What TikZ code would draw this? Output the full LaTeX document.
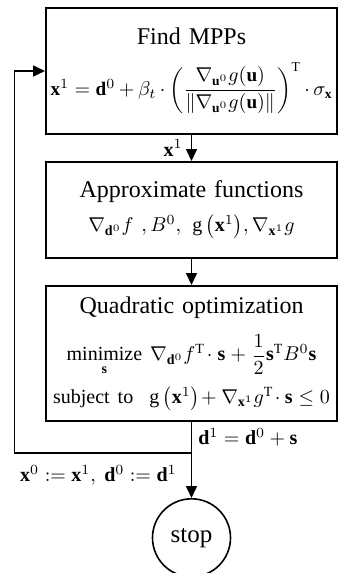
\documentclass[tikz,border=0pt]{standalone}
\usepackage{amsmath,amssymb}
\usepackage{fontspec}
\setmainfont{Liberation Serif}
\usetikzlibrary{positioning,arrows.meta}

\newcommand{\frm}{\fontsize{10}{12}\selectfont}

\tikzset{
  block/.style={draw, line width=1pt, minimum width=145.5pt, text width=141pt,
    align=center, inner sep=2pt, font=\fontsize{12}{14}\selectfont},
  stopnode/.style={draw, circle, line width=0.8pt, minimum size=39pt,
    inner sep=0pt, font=\fontsize{12.5}{14}\selectfont},
  flow/.style={line width=0.8pt, -{Triangle[length=6pt,width=5.5pt]}},
  lab/.style={font=\fontsize{10}{12}\selectfont, inner sep=1pt},
}

\begin{document}
\begin{tikzpicture}
  \useasboundingbox (0,0) rectangle (169.5pt,-286.5pt);
  % MPP search
  \node[block, minimum height=63pt] (mpp) at (95.75pt,-35.5pt)
    {Find MPPs\\[8pt]
     {\fontsize{9.6}{12}\selectfont$\mathbf{x}^1 = \mathbf{d}^0 + \beta_t \cdot \left( \dfrac{\nabla_{\mathbf{u}^0} g(\mathbf{u})}{\left\| \nabla_{\mathbf{u}^0} g(\mathbf{u}) \right\|} \right)^{\mathrm{T}} \cdot \sigma_{\mathbf{x}}$}};
  % approximations
  \node[block, minimum height=48pt, below=13pt of mpp] (approx)
    {Approximate functions\\[3pt]
     {\frm$\nabla_{\mathbf{d}^0} f\ ,B^0,\ \mathrm{g}\left(\mathbf{x}^1\right)\!,\nabla_{\mathbf{x}^1} g$}};
  % QP subproblem
  \node[block, minimum height=67.5pt, below=13pt of approx] (qp)
    {Quadratic optimization\\[7pt]
     {\frm$\underset{\mathbf{s}}{\text{minimize}}\ \nabla_{\mathbf{d}^0} f^{\mathrm{T}}\!\cdot\mathbf{s}+\dfrac{1}{2}\mathbf{s}^{\mathrm{T}}B^0\mathbf{s}$}\\[4.5pt]
     {\frm$\text{subject to}\ \ \mathrm{g}\left(\mathbf{x}^1\right)\!+\nabla_{\mathbf{x}^1} g^{\mathrm{T}}\!\cdot\mathbf{s}\le 0$}};
  % end
  \node[stopnode, below=38pt of qp] (stop) {stop};
  \coordinate[below=15.5pt of qp] (jn);
  \coordinate[left=88.5pt of jn] (back);

  \draw[flow] (mpp) -- node[left, lab, xshift=-3pt] {$\mathbf{x}^1$} (approx);
  \draw[flow] (approx) -- (qp);
  \draw[line width=0.8pt] (qp) -- node[right, lab, xshift=2pt] {$\mathbf{d}^1 = \mathbf{d}^0 + \mathbf{s}$} (jn);
  \draw[flow] (jn) -- node[left, lab, xshift=-6pt] {$\mathbf{x}^0 := \mathbf{x}^1,\ \mathbf{d}^0 := \mathbf{d}^1$} (stop);
  \draw[flow] (jn) -- (back) |- (mpp.west);
\end{tikzpicture}
\end{document}
